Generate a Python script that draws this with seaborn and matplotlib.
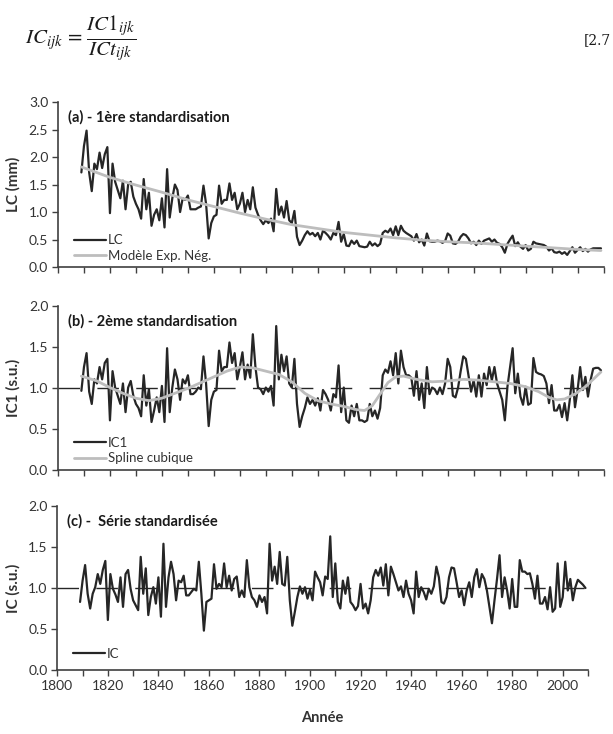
import matplotlib
matplotlib.use("Agg")
import matplotlib.pyplot as plt
import seaborn as sns
import numpy as np
import pandas as pd

# ---------------- data ----------------
years = list(range(1809, 2010))

lc = [1.72,
      2.20, 2.48, 1.72, 1.38, 1.88, 1.78, 2.08, 1.80, 2.05, 2.18,
      0.98, 1.88, 1.55, 1.40, 1.25, 1.57, 1.05, 1.50, 1.55, 1.28,
      1.15, 1.05, 0.88, 1.60, 1.05, 1.35, 0.75, 0.95, 1.05, 0.85,
      1.25, 0.72, 1.78, 0.90, 1.25, 1.50, 1.40, 1.00, 1.25, 1.22,
      1.30, 1.05, 1.05, 1.05, 1.08, 1.10, 1.48, 1.15, 0.52, 0.80,
      0.92, 0.95, 1.48, 1.15, 1.22, 1.22, 1.52, 1.22, 1.35, 1.05,
      1.15, 1.35, 1.00, 1.22, 1.05, 1.45, 1.08, 0.95, 0.85, 0.78,
      0.85, 0.80, 0.88, 0.65, 1.42, 0.95, 1.10, 0.90, 1.20, 0.85,
      0.80, 1.02, 0.55, 0.40, 0.48, 0.58, 0.65, 0.59, 0.62, 0.56,
      0.62, 0.50, 0.66, 0.62, 0.57, 0.50, 0.62, 0.58, 0.82, 0.46,
      0.60, 0.39, 0.38, 0.48, 0.42, 0.48, 0.38, 0.37, 0.36, 0.37,
      0.46, 0.39, 0.43, 0.38, 0.42, 0.62, 0.66, 0.63, 0.70, 0.58,
      0.74, 0.58, 0.75, 0.66, 0.62, 0.59, 0.56, 0.48, 0.60, 0.45,
      0.50, 0.39, 0.61, 0.47, 0.46, 0.46, 0.48, 0.47, 0.44, 0.47,
      0.61, 0.57, 0.43, 0.42, 0.46, 0.55, 0.60, 0.58, 0.52, 0.43,
      0.46, 0.40, 0.48, 0.42, 0.48, 0.50, 0.52, 0.46, 0.50, 0.44,
      0.42, 0.36, 0.26, 0.42, 0.50, 0.57, 0.38, 0.45, 0.37, 0.33,
      0.40, 0.30, 0.33, 0.46, 0.43, 0.42, 0.41, 0.40, 0.37, 0.30,
      0.34, 0.27, 0.26, 0.28, 0.24, 0.27, 0.22, 0.29, 0.36, 0.26,
      0.31, 0.36, 0.29, 0.33, 0.28, 0.32, 0.34, 0.34, 0.34, 0.34]

model_years = [1809, 1820, 1830, 1840, 1850, 1860, 1870, 1880, 1890, 1900,
               1910, 1920, 1930, 1940, 1950, 1960, 1970, 1980, 1990, 2000, 2009]
model_vals = [1.82, 1.63, 1.49, 1.36, 1.22, 1.10, 0.98, 0.87, 0.77, 0.70,
              0.63, 0.58, 0.53, 0.49, 0.46, 0.44, 0.41, 0.38, 0.35, 0.32, 0.30]

ic1 = [0.96,
       1.25, 1.42, 0.95, 0.80, 1.10, 1.05, 1.25, 1.10, 1.30, 1.35,
       0.60, 1.20, 1.00, 0.90, 0.80, 1.05, 0.70, 1.00, 1.08, 0.90,
       0.80, 0.75, 0.65, 1.15, 0.78, 0.98, 0.58, 0.72, 0.88, 0.70,
       1.02, 0.58, 1.48, 0.70, 1.00, 1.22, 1.10, 0.85, 1.10, 1.05,
       1.15, 0.92, 0.92, 0.95, 1.00, 0.98, 1.38, 1.05, 0.53, 0.85,
       0.95, 0.97, 1.45, 1.20, 1.25, 1.25, 1.55, 1.30, 1.42, 1.10,
       1.25, 1.43, 1.10, 1.28, 1.12, 1.65, 1.25, 1.00, 0.98, 0.92,
       1.00, 0.95, 1.02, 0.78, 1.75, 1.10, 1.40, 1.20, 1.38, 1.05,
       1.00, 1.35, 0.80, 0.52, 0.65, 0.75, 0.88, 0.80, 0.85, 0.78,
       0.87, 0.72, 0.97, 0.92, 0.85, 0.72, 0.92, 0.88, 1.27, 0.70,
       1.00, 0.60, 0.57, 0.78, 0.65, 0.80, 0.60, 0.60, 0.58, 0.60,
       0.80, 0.65, 0.72, 0.62, 0.75, 1.15, 1.22, 1.18, 1.32, 1.15,
       1.42, 1.05, 1.45, 1.25, 1.15, 1.15, 1.12, 0.90, 1.20, 0.85,
       1.05, 0.75, 1.25, 0.92, 1.00, 0.98, 0.92, 1.00, 0.92, 1.05,
       1.35, 1.25, 0.90, 0.88, 1.00, 1.20, 1.38, 1.35, 1.15, 0.95,
       1.09, 0.89, 1.15, 0.89, 1.17, 1.03, 1.25, 1.09, 1.25, 1.05,
       0.95, 0.85, 0.60, 1.01, 1.25, 1.48, 0.93, 1.17, 0.89, 0.79,
       1.01, 0.79, 0.81, 1.36, 1.19, 1.17, 1.16, 1.14, 1.05, 0.81,
       1.03, 0.72, 0.72, 0.79, 0.64, 0.81, 0.60, 0.85, 1.15, 0.76,
       0.97, 1.25, 0.97, 1.13, 0.89, 1.09, 1.23, 1.24, 1.24, 1.21]

spline_years = [1809, 1815, 1820, 1825, 1830, 1835, 1840, 1845, 1850, 1855,
                1860, 1865, 1870, 1875, 1880, 1885, 1890, 1895, 1900, 1905,
                1910, 1915, 1918, 1921, 1924, 1927, 1930, 1933, 1938, 1944,
                1950, 1956, 1962, 1968, 1974, 1980, 1985, 1989, 1992, 1995,
                1999, 2003, 2006, 2009]
spline_vals = [1.14, 1.08, 1.00, 0.93, 0.87, 0.84, 0.87, 0.93, 0.99, 1.06,
               1.13, 1.20, 1.25, 1.24, 1.20, 1.16, 1.07, 0.93, 0.84, 0.80,
               0.77, 0.73, 0.72, 0.78, 0.92, 1.06, 1.13, 1.14, 1.10, 1.07,
               1.08, 1.10, 1.09, 1.07, 1.05, 1.01, 0.95, 0.88, 0.85, 0.86,
               0.92, 1.01, 1.10, 1.19]

ic = [0.83,
      1.09, 1.28, 0.93, 0.75, 0.93, 1.01, 1.17, 1.05, 1.22, 1.33,
      0.61, 1.17, 0.99, 0.92, 0.83, 1.13, 0.77, 1.17, 1.22, 0.99,
      0.85, 0.79, 0.73, 1.38, 0.93, 1.24, 0.67, 0.89, 1.01, 0.81,
      1.13, 0.65, 1.54, 0.77, 1.13, 1.32, 1.17, 0.85, 1.09, 1.07,
      1.15, 0.91, 0.91, 0.95, 0.99, 0.97, 1.32, 0.93, 0.48, 0.83,
      0.85, 0.87, 1.29, 0.99, 1.05, 1.01, 1.30, 1.01, 1.15, 0.97,
      1.11, 1.14, 0.89, 0.97, 0.89, 1.34, 1.01, 0.89, 0.85, 0.77,
      0.91, 0.83, 0.89, 0.69, 1.54, 1.09, 1.26, 1.05, 1.44, 1.05,
      1.03, 1.38, 0.85, 0.54, 0.71, 0.89, 1.02, 0.93, 1.01, 0.87,
      0.98, 0.85, 1.20, 1.13, 1.07, 0.91, 1.14, 1.11, 1.63, 0.89,
      1.30, 0.83, 0.75, 1.09, 0.93, 1.13, 0.83, 0.79, 0.73, 0.78,
      1.05, 0.75, 0.81, 0.69, 0.85, 1.13, 1.22, 1.15, 1.25, 1.03,
      1.29, 0.91, 1.26, 1.17, 1.07, 0.97, 1.02, 0.89, 1.09, 0.93,
      0.85, 0.69, 1.20, 0.89, 1.01, 0.95, 0.86, 0.99, 0.93, 1.02,
      1.26, 1.13, 0.83, 0.81, 0.89, 1.13, 1.25, 1.24, 1.07, 0.89,
      0.97, 0.79, 0.97, 1.07, 0.89, 1.13, 1.23, 1.01, 1.17, 1.11,
      0.97, 0.77, 0.57, 0.85, 1.11, 1.40, 0.89, 1.13, 0.97, 0.75,
      1.11, 0.77, 0.77, 1.34, 1.20, 1.20, 1.17, 1.18, 1.05, 0.87,
      1.15, 0.81, 0.81, 0.89, 0.74, 1.01, 0.71, 0.75, 1.30, 0.77,
      0.89, 1.32, 0.97, 1.11, 0.85, 1.01, 1.10, 1.07, 1.04, 1.00]

ref_years = [1800, 2009]
ref_vals = [1.0, 1.0]

x_ticks = list(range(1800, 2011, 10))
x_labels = [str(t) if t % 20 == 0 else "" for t in x_ticks]
y_ticks_a = [0.0, 0.5, 1.0, 1.5, 2.0, 2.5, 3.0]
y_ticks_bc = [0.0, 0.5, 1.0, 1.5, 2.0]

# ---------------- style ----------------
sns.set_theme(style="white")
plt.rcParams["font.family"] = ["Lato", "DejaVu Sans"]
plt.rcParams["mathtext.fontset"] = "stix"

DARK = "#262626"
GRAY = "#bdbdbd"
TXT = "#333333"

fig = plt.figure(figsize=(6.13, 7.34), dpi=100)
ax_a = fig.add_axes([0.0946, 0.6362, 0.890, 0.2248])
ax_b = fig.add_axes([0.0946, 0.3603, 0.890, 0.2234])
ax_c = fig.add_axes([0.0935, 0.0872, 0.8657, 0.2234])

df = pd.DataFrame({"year": years, "LC": lc, "IC1": ic1, "IC": ic})
dm = pd.DataFrame({"year": model_years, "v": model_vals})
ds = pd.DataFrame({"year": spline_years, "v": spline_vals})
dr = pd.DataFrame({"year": ref_years, "v": ref_vals})

ref_dash = (0, (15.5, 12.5))

# panel a
sns.lineplot(data=df, x="year", y="LC", ax=ax_a, color=DARK, lw=1.6, label="LC")
sns.lineplot(data=dm, x="year", y="v", ax=ax_a, color=GRAY, lw=2.0, label="Modèle Exp. Nég.")
# panel b
sns.lineplot(data=dr, x="year", y="v", ax=ax_b, color=DARK, lw=1.0, linestyle=ref_dash, legend=False)
sns.lineplot(data=df, x="year", y="IC1", ax=ax_b, color=DARK, lw=1.6, label="IC1")
sns.lineplot(data=ds, x="year", y="v", ax=ax_b, color=GRAY, lw=2.0, label="Spline cubique")
# panel c
sns.lineplot(data=dr, x="year", y="v", ax=ax_c, color=DARK, lw=1.0, linestyle=ref_dash, legend=False)
sns.lineplot(data=df, x="year", y="IC", ax=ax_c, color=DARK, lw=1.6, label="IC")

titles = ["(a) - 1ère standardisation", "(b) - 2ème standardisation", "(c) -  Série standardisée"]
ylabels = ["LC (mm)", "IC1 (s.u.)", "IC (s.u.)"]
leg_y = [0.0, 0.0, 0.03]

for ax, yt, ttl, yl, ly in zip([ax_a, ax_b, ax_c], [y_ticks_a, y_ticks_bc, y_ticks_bc],
                               titles, ylabels, leg_y):
    ax.set_xlim(1800, 2010)
    ax.set_ylim(yt[0], yt[-1])
    ax.set_yticks(yt)
    ax.set_yticklabels([f"{v:.1f}" for v in yt])
    ax.set_xticks(x_ticks)
    for s in ["top", "right"]:
        ax.spines[s].set_visible(False)
    for s in ["left", "bottom"]:
        ax.spines[s].set_color("#404040")
        ax.spines[s].set_linewidth(1.2)
    ax.tick_params(axis="both", which="major", direction="out", length=4, width=1.0,
                   color="#404040", labelsize=10, labelcolor=TXT, left=True, bottom=True, pad=3)
    ax.set_ylabel(yl, fontsize=11, fontweight="bold", color=TXT)
    ax.set_xlabel("")
    ax.text(0.018, 0.905, ttl, transform=ax.transAxes, fontsize=10.5, fontweight="bold",
            color="#1a1a1a", va="center", ha="left")
    leg = ax.legend(loc="lower left", bbox_to_anchor=(0.02, ly), frameon=False,
                    fontsize=9.5, handlelength=2.4, handletextpad=0.15, labelspacing=0.25,
                    borderaxespad=0.0)
    for t in leg.get_texts():
        t.set_color(TXT)

ax_a.yaxis.set_label_coords(-0.068, 0.5)
ax_b.yaxis.set_label_coords(-0.068, 0.5)
ax_c.yaxis.set_label_coords(-0.070, 0.5)

ax_a.set_xticklabels(["" for _ in x_ticks])
ax_b.set_xticklabels(["" for _ in x_ticks])
ax_c.set_xticklabels(x_labels)
ax_c.set_xlabel("Année", fontsize=10.5, fontweight="bold", color=TXT, labelpad=14)

# equation
fig.text(0.041, 0.948, r"$IC_{ijk}\,=\,\dfrac{IC1_{ijk}}{ICt_{ijk}}$", fontsize=15,
         va="center", ha="left", color="#1a1a1a")
fig.text(0.997, 0.946, "[2.7", fontsize=10, va="center", ha="right", color="#1a1a1a",
         family=["DejaVu Serif"])

fig.savefig("out.png", dpi=100)
